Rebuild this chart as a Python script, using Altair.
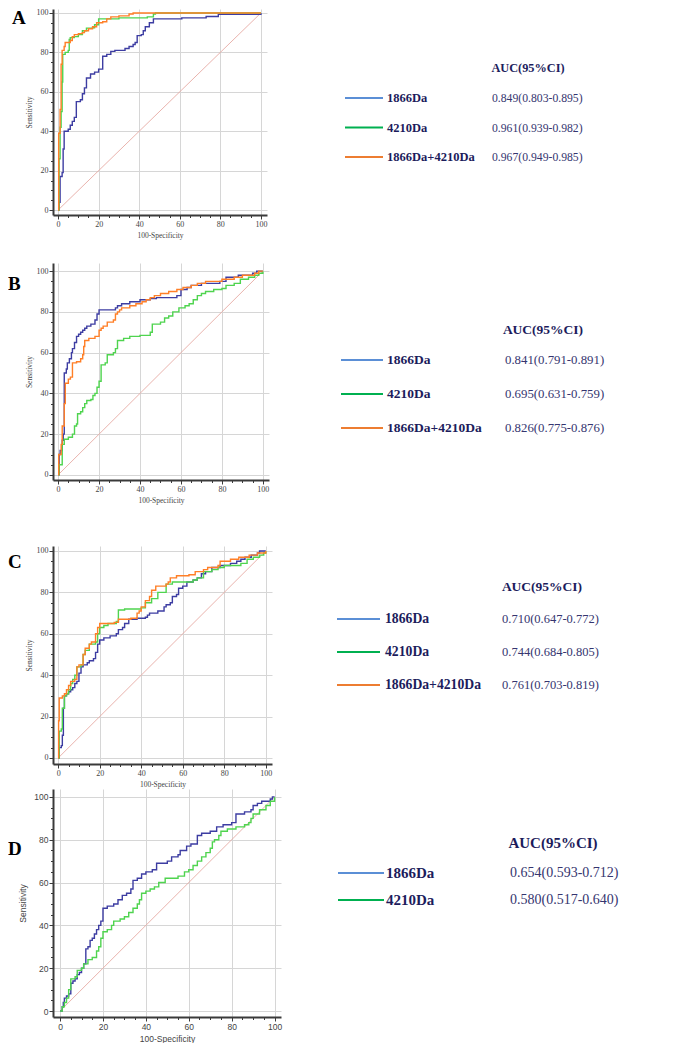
import altair as alt
import pandas as pd

# ---------------- data ----------------
SERIES = ["1866Da", "4210Da", "1866Da+4210Da"]
TICK_VALUES = list(range(0, 101, 5))
DIAG_X = [0, 100]
DIAG_Y = [0, 100]

# Panel A
a_blue_x = [0, 0.5, 1, 2, 2.5, 3, 5, 6, 7, 8, 9, 11, 12, 13, 14, 16, 18, 20, 22, 24, 26, 28, 33, 35, 37, 38, 39, 41, 42, 43, 45, 47, 61, 73, 79, 100]
a_blue_y = [0, 4, 17, 19, 31, 40, 41, 43, 45, 47, 55, 56, 59, 62, 67, 69, 70, 71.5, 78, 79, 80.5, 81, 82, 83, 84, 85, 88.5, 89, 91, 93, 95, 97, 97.5, 98.2, 99.3, 100]
a_green_x = [0, 0.5, 1, 1.5, 2, 2.3, 3.5, 5, 5.5, 6, 8, 10, 12, 14, 17, 18, 20, 30, 44, 47, 48, 100]
a_green_y = [0, 26, 42, 50, 65, 79, 80, 81, 86.5, 87.5, 88, 89, 91, 92.3, 92.5, 94, 97, 97.5, 98, 99.5, 100, 100]
a_orange_x = [0, 0.3, 1, 1.5, 2, 3, 3.5, 6, 7, 8, 10, 12, 13, 15, 17, 19, 22, 24, 26, 30, 35, 37, 100]
a_orange_y = [0, 39, 51, 74, 81, 83, 85, 86, 88, 89, 89.5, 90, 91, 92, 93, 95, 95.5, 97, 98, 98.5, 99.5, 100, 100]
auc_a = ["0.849(0.803-0.895)", "0.961(0.939-0.982)", "0.967(0.949-0.985)"]

# Panel B
b_blue_x = [0, 0.5, 1, 2, 2.5, 3, 4, 4.5, 5.5, 6.5, 7, 8, 9, 10, 11, 12, 13, 14, 16, 18, 19, 20, 28, 29, 31, 35, 40, 45, 48, 58, 60, 63, 65, 70, 79, 82, 88, 95, 97, 100]
b_blue_y = [0, 10, 12, 17, 20, 50, 52, 55, 57, 60, 62, 65, 68, 69, 70, 71, 72, 73, 74, 76, 79, 81, 82, 83, 84, 85, 86, 86.5, 87, 88, 91, 92, 93, 94, 95, 97, 98, 99, 100, 100]
b_green_x = [0, 0.5, 2, 3, 5, 7, 8, 9, 9.5, 11, 12, 13, 14, 16, 17, 18, 19, 20, 21, 23, 24, 27, 28, 29, 32, 35, 40, 45, 46, 50, 52, 54, 56, 59, 62, 64, 66, 68, 70, 72, 76, 80, 82, 86, 89, 93, 96, 98, 100]
b_green_y = [0, 5, 15, 17.5, 18.5, 20, 24, 25, 30, 31, 33, 35, 36.5, 37, 39, 40, 43, 46, 54, 55, 59, 60, 62, 66, 67, 68, 68.5, 70, 74, 75, 77, 78, 80, 82, 83, 84, 86, 88, 89, 90, 91, 91.5, 93, 94, 96, 97, 98, 99, 100]
b_orange_x = [0, 0.3, 1.5, 2, 3, 3.5, 5, 6, 7, 9, 11, 12, 12.5, 13, 15, 18, 20, 21, 22, 24, 27, 28, 29, 30, 31, 35, 38, 41, 43, 45, 47, 50, 54, 58, 61, 65, 68, 72, 80, 86, 90, 96, 98, 100]
b_orange_y = [0, 10, 15, 24, 35, 45, 47, 48, 55, 55.5, 57, 59, 63, 66, 67, 68, 71, 72, 73, 75, 76, 79, 80, 81, 82, 83, 84, 85, 86, 87, 88, 89, 90, 91, 92, 93, 94, 95, 96, 97, 98, 99, 100, 100]
auc_b = ["0.841(0.791-0.891)", "0.695(0.631-0.759)", "0.826(0.775-0.876)"]

# Panel C
c_blue_x = [0, 0.5, 1.5, 2, 2.5, 3, 4, 5, 6, 7, 8, 9, 10, 11, 12, 14, 15, 17, 18, 19, 20, 22, 25, 28, 29, 31, 32, 34, 38, 42, 43, 44, 48, 51, 52, 54, 55, 57, 58, 60, 62, 65, 67, 69, 71, 74, 78, 83, 86, 88, 90, 93, 96, 97, 100]
c_blue_y = [0, 5, 6, 11, 24, 30, 31, 32, 33, 34, 36, 37, 41, 44, 45, 46, 47, 48, 51, 55, 57, 58, 59, 60, 62, 63, 65, 67, 67.5, 68, 69, 70, 71, 73, 74, 75, 78, 79, 82, 83, 85, 86, 87, 89, 90, 92, 93, 94, 95, 96, 97, 98, 99, 100, 100]
c_green_x = [0, 0.5, 1.5, 2, 3, 4, 5, 6, 7, 8, 9, 11, 12, 13, 15, 18, 19, 20, 22, 24, 28, 29, 32, 40, 42, 45, 48, 52, 55, 65, 67, 70, 74, 77, 80, 88, 91, 94, 97, 99, 100]
c_green_y = [0, 13, 14, 24, 30, 31, 33, 36, 38, 40, 44, 45, 50, 52, 55, 56, 60, 63, 64, 65, 66, 71.5, 72, 72.5, 75, 77, 80, 84, 85, 86, 87, 90, 91, 92, 93, 94, 96, 97, 98, 99, 100]
c_orange_x = [0, 0.2, 0.5, 2, 3, 4, 5, 6, 8, 9, 10, 12, 13, 15, 16, 18, 19, 20, 27, 29, 35, 38, 39, 40, 42, 44, 45, 47, 52, 53, 54, 57, 63, 66, 70, 72, 77, 78, 83, 87, 92, 96, 100]
c_orange_y = [0, 18, 29, 30, 31, 33, 35, 37, 38, 44, 45, 50, 53, 55, 56, 60, 63, 65, 65.5, 67, 67.5, 70, 71, 73, 76, 78, 81, 83, 84, 85, 87, 88, 88.5, 90, 91, 92, 93, 95, 96, 97, 98, 99, 100]
auc_c = ["0.710(0.647-0.772)", "0.744(0.684-0.805)", "0.761(0.703-0.819)"]

# Panel D
d_blue_x = [0, 1, 1.5, 2, 3, 4, 5, 6, 7, 8, 9, 10, 11, 12, 13, 14, 15, 16, 17, 18, 19, 20, 22, 25, 27, 29, 31, 33, 34, 36, 38, 40, 43, 45, 50, 52, 55, 56, 59, 61, 64, 66, 70, 73, 76, 80, 82, 86, 89, 90, 92, 94, 98, 99, 100]
d_blue_y = [0, 2, 4, 6, 7, 8, 13, 14, 15, 17, 18, 20, 22, 29, 30, 33, 34, 36, 38, 40, 42, 48, 49, 50, 52, 54, 55, 57, 61, 62, 64, 65, 66, 69, 70, 72, 73, 75, 77, 78, 82, 83, 84, 86, 87, 88, 92, 93, 94, 96, 97, 98, 99, 100, 100]
d_green_x = [0, 1, 2, 3, 4, 5, 7, 8, 10, 11, 13, 15, 17, 18, 19, 20, 22, 24, 25, 28, 30, 32, 34, 36, 37, 38, 40, 42, 44, 46, 49, 55, 58, 60, 62, 64, 66, 68, 70, 71, 72, 74, 75, 78, 82, 86, 88, 89, 90, 93, 96, 98, 100]
d_green_y = [0, 2, 4, 6, 10, 15, 16, 19, 20, 22, 24, 25, 28, 30, 34, 37, 38, 40, 42, 43, 44, 46, 48, 50, 52, 55, 56, 57, 58, 60, 62, 63, 65, 66, 68, 70, 72, 74, 76, 79, 80, 82, 84, 85, 86, 87, 88, 90, 92, 94, 96, 98, 100]
auc_d = ["0.654(0.593-0.712)", "0.580(0.517-0.640)"]

# ---------------- styles ----------------
SERIF = "Liberation Serif"
SANS = "Liberation Sans"
CURVE_COLORS = ["#3d3da2", "#4fd44f", "#ff7f27"]
LEGEND_COLORS = ["#5b8fd6", "#00b050", "#ed7d31"]
DIAG_COLOR = "#e6aaa4"
NAVY = "#1c1c5c"
VALCOL = "#35356f"
AXCOL = "#3a3a3a"
LABCOL = "#444444"
MAJOR = "datum.value % 20 === 0"


def make_axis(title, font, lsize, tsize, tpad, lpad):
    return alt.Axis(
        values=TICK_VALUES,
        labelExpr=f"{MAJOR} ? datum.label : ''",
        tickSize={"condition": {"test": MAJOR, "value": 4}, "value": 2.5},
        grid=True,
        gridOpacity={"condition": {"test": MAJOR, "value": 1}, "value": 0},
        gridColor="#d6d6d6", gridWidth=1,
        domainColor=AXCOL, domainWidth=2, tickColor=AXCOL, tickWidth=1,
        labelFont=font, labelFontSize=lsize, labelColor=LABCOL, labelPadding=lpad,
        labelOverlap=False, labelFlush=False,
        title=title, titleFont=font, titleFontSize=tsize, titleFontWeight="normal",
        titleColor=LABCOL, titlePadding=tpad,
    )


def panel(curves, letter, g):
    xs = alt.Scale(domain=g["xdom"], nice=False, zero=False)
    ys = alt.Scale(domain=g["ydom"], nice=False, zero=False)
    X = alt.X("fpr:Q", scale=xs, axis=make_axis("100-Specificity", g["font"], g["lsz"], g["tsz"], g["xtp"], 1))
    Y = alt.Y("sens:Q", scale=ys, axis=make_axis("Sensitivity", g["font"], g["lsz"], g["tsz"], g["ytp"], 1))
    layers = [alt.Chart(pd.DataFrame({"fpr": DIAG_X, "sens": DIAG_Y}))
              .mark_line(color=DIAG_COLOR, strokeWidth=0.9).encode(x=X, y=Y)]
    for (xv, yv), col in zip(curves, CURVE_COLORS):
        layers.append(alt.Chart(pd.DataFrame({"fpr": xv, "sens": yv}))
                      .mark_line(interpolate="step-after", strokeWidth=1.4, color=col)
                      .encode(x=X, y=Y))
    layers.append(alt.Chart(pd.DataFrame({"t": [letter]}))
                  .mark_text(align="left", baseline="middle", font=SERIF, fontWeight="bold",
                             fontSize=19, color="#000000")
                  .encode(text="t:N", x=alt.value(g["lx"]), y=alt.value(g["ly"])))
    return alt.layer(*layers).properties(width=g["w"], height=g["h"])


def legend_panel(aucs, g):
    n = len(aucs)
    df = pd.DataFrame({"name": SERIES[:n], "auc": aucs, "i": list(range(n))})
    Yi = alt.Y("i:Q", scale=alt.Scale(domain=[0, n - 1], range=[g["y0"], g["y1"]]), axis=None)
    rules = alt.Chart(df).mark_rule(strokeWidth=2).encode(
        x=alt.value(g["x1"]), x2=alt.value(g["x2"]), y=Yi,
        color=alt.Color("name:N", scale=alt.Scale(domain=SERIES, range=LEGEND_COLORS), legend=None))
    names = alt.Chart(df).mark_text(align="left", baseline="middle", font=SERIF, fontWeight="bold",
                                    fontSize=g["fs1"], color=NAVY).encode(
        x=alt.value(g["xl"]), y=Yi, text="name:N")
    vals = alt.Chart(df).mark_text(align="left", baseline="middle", font=SERIF,
                                   fontSize=g["fs2"], color=VALCOL).encode(
        x=alt.value(g["xv"]), y=Yi, text="auc:N")
    head = alt.Chart(pd.DataFrame({"t": ["AUC(95%CI)"]})).mark_text(
        align="center", baseline="middle", font=SERIF, fontWeight="bold",
        fontSize=g["fs3"], color=NAVY).encode(text="t:N", x=alt.value(g["hx"]), y=alt.value(g["hy"]))
    return alt.layer(head, rules, names, vals).properties(width=340, height=g["h"])


geomA = dict(xdom=[-2.5, 103], ydom=[-2.5, 102], w=214, h=206, lx=-41, ly=9,
             font=SERIF, lsz=8, tsz=7.5, xtp=3, ytp=3)
geomB = dict(xdom=[-2.5, 103], ydom=[-2.5, 104], w=216, h=217, lx=-45, ly=21,
             font=SERIF, lsz=8, tsz=7.5, xtp=3, ytp=3)
geomC = dict(xdom=[-2.5, 103], ydom=[-2.9, 102.4], w=219, h=218, lx=-45, ly=16,
             font=SERIF, lsz=8, tsz=7.5, xtp=3, ytp=3)
geomD = dict(xdom=[-3.3, 103], ydom=[-2.8, 103.7], w=228, h=228, lx=-45, ly=60,
             font=SANS, lsz=8.5, tsz=8.5, xtp=4, ytp=6)

legA = dict(h=254, hx=228, hy=59, y0=89, y1=148, x1=45, x2=83, xl=87, xv=192, fs1=12.5, fs2=11.7, fs3=12.3)
legB = dict(h=283, hx=243, hy=67, y0=97, y1=165, x1=41, x2=83, xl=87, xv=205, fs1=13.5, fs2=12.8, fs3=13.5)
legC = dict(h=243, hx=242, hy=41, y0=73, y1=139, x1=37, x2=80, xl=85, xv=202, fs1=13.7, fs2=12.5, fs3=13.5)
legD = dict(h=232, hx=252, hy=54, y0=84, y1=111, x1=37, x2=83, xl=85, xv=209, fs1=15, fs2=14, fs3=15)

rowA = alt.hconcat(panel([(a_blue_x, a_blue_y), (a_green_x, a_green_y), (a_orange_x, a_orange_y)], "A", geomA),
                   legend_panel(auc_a, legA), spacing=33)
rowB = alt.hconcat(panel([(b_blue_x, b_blue_y), (b_green_x, b_green_y), (b_orange_x, b_orange_y)], "B", geomB),
                   legend_panel(auc_b, legB), spacing=31)
rowC = alt.hconcat(panel([(c_blue_x, c_blue_y), (c_green_x, c_green_y), (c_orange_x, c_orange_y)], "C", geomC),
                   legend_panel(auc_c, legC), spacing=28)
rowD = alt.hconcat(panel([(d_blue_x, d_blue_y), (d_green_x, d_green_y)], "D", geomD),
                   legend_panel(auc_d, legD), spacing=19)

chart = alt.vconcat(rowA, rowB, rowC, rowD, spacing=0).properties(padding=0).configure_view(stroke=None)

chart.save("out.html", embed_options={"renderer": "svg", "actions": False})
